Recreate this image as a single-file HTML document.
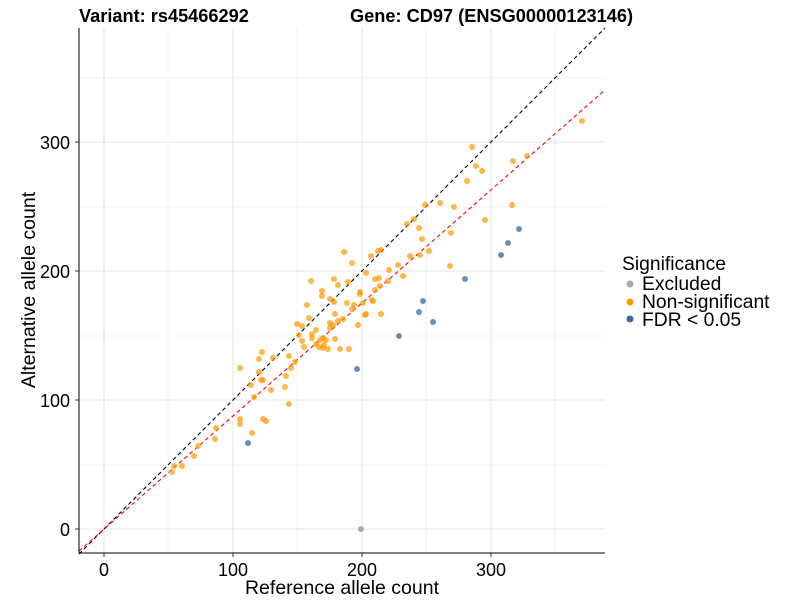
<!DOCTYPE html>
<html><head><meta charset="utf-8"><style>body{margin:0;background:#fff}svg{display:block;font-family:"Liberation Sans",sans-serif}</style></head><body>
<svg width="800" height="600" viewBox="0 0 800 600">
<g stroke="#ebebeb" stroke-width="0.6">
<line x1="79" x2="605" y1="465" y2="465"/><line x1="79" x2="605" y1="336" y2="336"/><line x1="79" x2="605" y1="207" y2="207"/><line x1="79" x2="605" y1="78" y2="78"/>
<line x1="168" x2="168" y1="28" y2="553"/><line x1="297" x2="297" y1="28" y2="553"/><line x1="426" x2="426" y1="28" y2="553"/><line x1="555" x2="555" y1="28" y2="553"/>
</g>
<g stroke="#e5e5e5" stroke-width="1.1">
<line x1="79" x2="605" y1="529" y2="529"/><line x1="79" x2="605" y1="400" y2="400"/><line x1="79" x2="605" y1="271" y2="271"/><line x1="79" x2="605" y1="142" y2="142"/>
<line x1="104" x2="104" y1="28" y2="553"/><line x1="233" x2="233" y1="28" y2="553"/><line x1="362" x2="362" y1="28" y2="553"/><line x1="491" x2="491" y1="28" y2="553"/>
</g>
<line x1="79" y1="554" x2="605" y2="28" stroke="#000" stroke-width="1.1" stroke-dasharray="4,3"/>
<line x1="79" y1="551" x2="605" y2="90" stroke="#f00" stroke-width="1.1" stroke-dasharray="4,3"/>
<g fill="#ff9900" fill-opacity="0.7">
<circle cx="472" cy="147" r="3"/><circle cx="582" cy="121" r="3"/><circle cx="513" cy="161" r="3"/><circle cx="527" cy="156" r="3"/><circle cx="476" cy="166" r="3"/><circle cx="482" cy="171" r="3"/><circle cx="467" cy="181" r="3"/><circle cx="425" cy="205" r="3"/><circle cx="440" cy="203" r="3"/><circle cx="454" cy="207" r="3"/><circle cx="512" cy="205" r="3"/><circle cx="485" cy="220" r="3"/><circle cx="414" cy="219" r="3"/><circle cx="407" cy="224" r="3"/><circle cx="419" cy="228" r="3"/><circle cx="422" cy="239" r="3"/><circle cx="451" cy="233" r="3"/><circle cx="381" cy="250" r="3"/><circle cx="378" cy="251" r="3"/><circle cx="371" cy="256" r="3"/><circle cx="344" cy="252" r="3"/><circle cx="352" cy="263" r="3"/><circle cx="410" cy="256" r="3"/><circle cx="420" cy="255" r="3"/><circle cx="429" cy="251" r="3"/><circle cx="398" cy="265" r="3"/><circle cx="450" cy="266" r="3"/><circle cx="366" cy="273" r="3"/><circle cx="389" cy="270" r="3"/><circle cx="403" cy="276" r="3"/><circle cx="375" cy="279" r="3"/><circle cx="379" cy="278" r="3"/><circle cx="388" cy="281" r="3"/><circle cx="380" cy="286" r="3"/><circle cx="334" cy="279" r="3"/><circle cx="338" cy="285" r="3"/><circle cx="348" cy="282" r="3"/><circle cx="311" cy="281" r="3"/><circle cx="322" cy="291" r="3"/><circle cx="322" cy="296" r="3"/><circle cx="360" cy="292" r="3"/><circle cx="360" cy="294" r="3"/><circle cx="375" cy="290" r="3"/><circle cx="330" cy="299" r="3"/><circle cx="334" cy="302" r="3"/><circle cx="347" cy="303" r="3"/><circle cx="363" cy="303" r="3"/><circle cx="372" cy="300" r="3"/><circle cx="373" cy="301" r="3"/><circle cx="354" cy="305" r="3"/><circle cx="352" cy="309" r="3"/><circle cx="307" cy="305" r="3"/><circle cx="335" cy="314" r="3"/><circle cx="366" cy="314" r="3"/><circle cx="365" cy="315" r="3"/><circle cx="381" cy="314" r="3"/><circle cx="309" cy="318" r="3"/><circle cx="297" cy="324" r="3"/><circle cx="302" cy="326" r="3"/><circle cx="330" cy="323" r="3"/><circle cx="333" cy="325" r="3"/><circle cx="338" cy="321" r="3"/><circle cx="343" cy="319" r="3"/><circle cx="358" cy="325" r="3"/><circle cx="330" cy="328" r="3"/><circle cx="316" cy="330" r="3"/><circle cx="312" cy="334" r="3"/><circle cx="299" cy="335" r="3"/><circle cx="312" cy="338" r="3"/><circle cx="323" cy="338" r="3"/><circle cx="320" cy="340" r="3"/><circle cx="326" cy="340" r="3"/><circle cx="335" cy="339" r="3"/><circle cx="302" cy="341" r="3"/><circle cx="316" cy="344" r="3"/><circle cx="324" cy="345" r="3"/><circle cx="304" cy="347" r="3"/><circle cx="340" cy="349" r="3"/><circle cx="349" cy="349" r="3"/><circle cx="328" cy="349" r="3"/><circle cx="323" cy="348" r="3"/><circle cx="319" cy="347" r="3"/>
<circle cx="262" cy="352" r="3"/><circle cx="259" cy="359" r="3"/><circle cx="273" cy="358" r="3"/><circle cx="289" cy="356" r="3"/><circle cx="295" cy="362" r="3"/><circle cx="291" cy="368" r="3"/><circle cx="240" cy="368" r="3"/><circle cx="259" cy="372" r="3"/><circle cx="261" cy="380" r="3"/><circle cx="263" cy="380" r="3"/><circle cx="251" cy="385" r="3"/><circle cx="286" cy="376" r="3"/><circle cx="285" cy="387" r="3"/><circle cx="271" cy="390" r="3"/><circle cx="254" cy="397" r="3"/><circle cx="289" cy="404" r="3"/><circle cx="240" cy="419" r="3"/><circle cx="240" cy="424" r="3"/><circle cx="263" cy="419" r="3"/><circle cx="266" cy="421" r="3"/><circle cx="252" cy="433" r="3"/><circle cx="216" cy="428" r="3"/><circle cx="215" cy="439" r="3"/><circle cx="198" cy="446" r="3"/><circle cx="194" cy="456" r="3"/><circle cx="182" cy="466" r="3"/><circle cx="174" cy="466" r="3"/><circle cx="172" cy="472" r="3"/>
</g>
<g fill="#3b6aa0" fill-opacity="0.75">
<circle cx="519" cy="229" r="3"/><circle cx="508" cy="243" r="3"/><circle cx="501" cy="255" r="3"/><circle cx="465" cy="279" r="3"/><circle cx="423" cy="301" r="3"/><circle cx="419" cy="312" r="3"/><circle cx="433" cy="322" r="3"/><circle cx="399" cy="336" r="3"/><circle cx="357" cy="369" r="3"/><circle cx="248" cy="443" r="3"/>
</g>
<circle cx="361" cy="529" r="3" fill="#aaa"/>
<line x1="79" y1="28" x2="79" y2="553" stroke="#000" stroke-width="1"/>
<line x1="79" y1="553" x2="605" y2="553" stroke="#000" stroke-width="1"/>
<g stroke="#333"><line x1="75" x2="79" y1="529" y2="529"/><line x1="75" x2="79" y1="400" y2="400"/><line x1="75" x2="79" y1="271" y2="271"/><line x1="75" x2="79" y1="142" y2="142"/>
<line x1="104" x2="104" y1="553" y2="557"/><line x1="233" x2="233" y1="553" y2="557"/><line x1="362" x2="362" y1="553" y2="557"/><line x1="491" x2="491" y1="553" y2="557"/></g>
<g font-size="18" fill="#000" text-anchor="end"><text x="70" y="536">0</text><text x="70" y="407">100</text><text x="70" y="278">200</text><text x="70" y="149">300</text></g>
<g font-size="18" fill="#000" text-anchor="middle"><text x="104" y="576">0</text><text x="233" y="576">100</text><text x="362" y="576">200</text><text x="491" y="576">300</text></g>
<g font-size="19.5" fill="#000" text-anchor="middle">
<text x="342" y="594">Reference allele count</text>
<text transform="translate(35,290) rotate(-90)">Alternative allele count</text></g>
<g font-size="18.2" font-weight="bold"><text x="79" y="22">Variant: rs45466292</text><text x="350" y="22">Gene: CD97 (ENSG00000123146)</text></g>
<g font-size="19.3"><text x="622" y="270">Significance</text><text x="642" y="290">Excluded</text><text x="642" y="308">Non-significant</text><text x="642" y="326">FDR &lt; 0.05</text></g>
<circle cx="630" cy="284" r="3.5" fill="#aaa"/><circle cx="630" cy="302" r="3.5" fill="#ff9900"/><circle cx="630" cy="319" r="3.5" fill="#3b6aa0"/>
</svg>
</body></html>
